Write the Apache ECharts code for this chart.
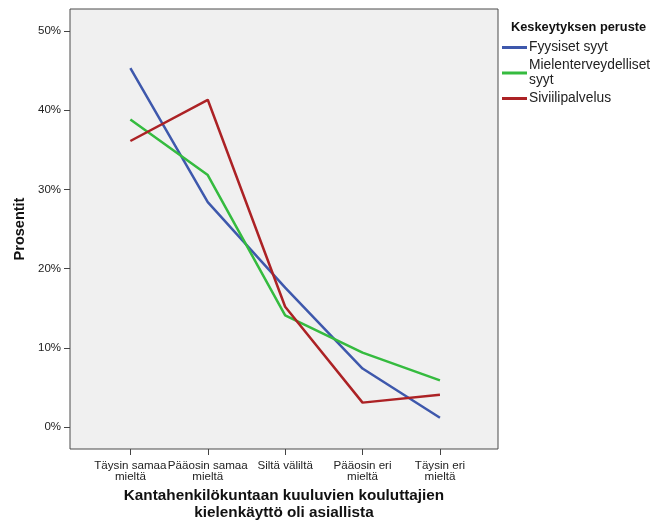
<!DOCTYPE html>
<html>
<head>
<meta charset="utf-8">
<script src="https://cdn.jsdelivr.net/npm/echarts@6/dist/echarts.min.js"></script>
<style>html,body{margin:0;padding:0;background:#fff}#c{width:652px;height:526px}</style>
</head>
<body>
<div id="c"></div>
<script>
const categories = ['Täysin samaa\nmieltä', 'Pääosin samaa\nmieltä', 'Siltä väliltä', 'Pääosin eri\nmieltä', 'Täysin eri\nmieltä'];
const yTicks = [0, 10, 20, 30, 40, 50];
const seriesNames = ['Fyysiset syyt', 'Mielenterveydelliset syyt', 'Siviilipalvelus'];
const fyysiset = [45.3, 28.4, 17.6, 7.4, 1.2];
const mielenterveydelliset = [38.8, 31.8, 14.1, 9.4, 5.9];
const siviilipalvelus = [36.1, 41.3, 15.2, 3.1, 4.1];
const colors = ['#3e58ac', '#35bb3f', '#ac2225'];

const values = [fyysiset, mielenterveydelliset, siviilipalvelus];
const FONT = '"Liberation Sans", Arial, sans-serif';
const chart = echarts.init(document.getElementById('c'), null, {renderer: 'canvas'});
chart.setOption({
  animation: false,
  backgroundColor: '#ffffff',
  title: {
    text: 'Keskeytyksen peruste', left: 506, top: 16,
    textStyle: {fontFamily: FONT, fontSize: 12.8, fontWeight: 'bold', color: '#111'}
  },
  legend: {
    orient: 'vertical', left: 497, top: 35, icon: 'rect', itemWidth: 25, itemHeight: 3, itemGap: 3,
    data: seriesNames,
    formatter: n => n === 'Mielenterveydelliset syyt' ? 'Mielenterveydelliset\nsyyt' : n,
    textStyle: {fontFamily: FONT, fontSize: 13.8, lineHeight: 15, color: '#222', padding: [0,0,0,-3]}
  },
  grid: {
    left: 70, right: 154, top: 9, bottom: 77, show: true,
    backgroundColor: '#f0f0f0', borderColor: '#4a4a4a', borderWidth: 1,
    outerBoundsMode: 'none'
  },
  xAxis: {
    type: 'value', min: -0.78, max: 4.75,
    name: 'Kantahenkilökuntaan kuuluvien kouluttajien\nkielenkäyttö oli asiallista',
    nameLocation: 'middle', nameGap: 37,
    nameTextStyle: {fontFamily: FONT, fontSize: 15.3, fontWeight: 'bold', color: '#111', lineHeight: 17},
    axisLine: {show: false, onZero: false}, splitLine: {show: false},
    axisTick: {show: true, length: 6, lineStyle: {color: '#444'}, customValues: [0,1,2,3,4]},
    axisLabel: {
      customValues: [0,1,2,3,4], formatter: v => categories[v], margin: 11,
      fontFamily: FONT, fontSize: 11.6, lineHeight: 11, color: '#222'
    }
  },
  yAxis: {
    type: 'value', min: -2.75, max: 52.75,
    name: 'Prosentit', nameLocation: 'middle', nameGap: 42,
    nameTextStyle: {fontFamily: FONT, fontSize: 14.5, fontWeight: 'bold', color: '#111'},
    axisLine: {show: false, onZero: false}, splitLine: {show: false},
    axisTick: {show: true, length: 6, lineStyle: {color: '#444'}, customValues: yTicks},
    axisLabel: {
      customValues: yTicks, formatter: v => v + '%', margin: 9,
      fontFamily: FONT, fontSize: 11.5, color: '#222'
    }
  },
  series: seriesNames.map((name, s) => ({
    name, type: 'line', symbol: 'none', showSymbol: false,
    color: colors[s], lineStyle: {width: 2.5, color: colors[s]},
    data: values[s].map((v, i) => [i, v])
  }))
});
</script>
</body>
</html>
